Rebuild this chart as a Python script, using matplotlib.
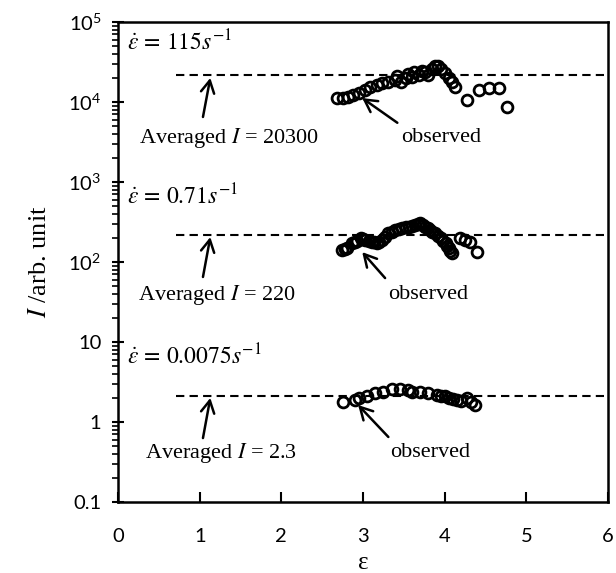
import matplotlib.pyplot as plt
import matplotlib.ticker as mticker
import numpy as np

# strain rate 115 s^-1
eps_115 = [2.68, 2.76, 2.82, 2.88, 2.95, 3.03, 3.09, 3.17, 3.23, 3.31, 3.39, 3.42, 3.46, 3.52,
           3.55, 3.60, 3.62, 3.68, 3.72, 3.76, 3.80, 3.84, 3.88, 3.92, 3.96, 4.00, 4.05, 4.09,
           4.13, 4.27, 4.42, 4.54, 4.66, 4.76]
I_115 = [11100, 11100, 11600, 12200, 12800, 14100, 15500, 16300, 17100, 17900, 18800, 21000,
         17900, 19800, 22500, 20700, 23500, 21700, 24500, 23500, 21700, 25500, 28000, 28500,
         26000, 23000, 19800, 17900, 15500, 10600, 14100, 14900, 14900, 8700]

# strain rate 0.71 s^-1
eps_071 = [2.74, 2.78, 2.80, 2.86, 2.90, 2.92, 2.97, 3.00, 3.03, 3.07, 3.11, 3.14, 3.17, 3.20,
           3.23, 3.27, 3.31, 3.35, 3.39, 3.44, 3.48, 3.52, 3.56, 3.60, 3.64, 3.67, 3.70, 3.73,
           3.76, 3.79, 3.82, 3.85, 3.88, 3.92, 3.95, 3.98, 4.01, 4.03, 4.05, 4.07, 4.09, 4.19,
           4.25, 4.31, 4.40]
I_071 = [141, 145, 148, 171, 179, 185, 198, 195, 188, 183, 179, 176, 171, 180,
         188, 205, 228, 240, 251, 258, 263, 270, 276, 283, 290, 296, 303, 290,
         276, 265, 251, 240, 228, 212, 198, 185, 171, 160, 148, 138, 129, 198,
         188, 179, 135]

# strain rate 0.0075 s^-1
eps_0075 = [2.75, 2.90, 2.95, 3.05, 3.15, 3.25, 3.35, 3.45, 3.55, 3.60, 3.70, 3.80, 3.90,
            3.95, 4.00, 4.05, 4.10, 4.15, 4.20, 4.27, 4.32, 4.37]
I_0075 = [1.8, 1.9, 2.0, 2.1, 2.3, 2.4, 2.6, 2.55, 2.5, 2.4, 2.4, 2.3, 2.2,
          2.1, 2.1, 2.0, 1.95, 1.9, 1.85, 2.0, 1.8, 1.65]

avg_levels = [21500, 220, 2.1]
avg_labels = ["20300", "220", "2.3"]
rate_labels = [r"$\dot{\varepsilon}\,=\,115s^{-1}$", r"$\dot{\varepsilon}\,=\,0.71s^{-1}$",
               r"$\dot{\varepsilon}\,=\,0.0075s^{-1}$"]

plt.rcParams["mathtext.fontset"] = "custom"
plt.rcParams["mathtext.rm"] = "Lato"
plt.rcParams["mathtext.it"] = "Lato:italic"

fig = plt.figure(figsize=(6.16, 5.73), dpi=100)
ax = fig.add_axes([0.1916, 0.1239, 0.7955, 0.8377])

for e, I in [(eps_115, I_115), (eps_071, I_071), (eps_0075, I_0075)]:
    ax.plot(e, I, "o", mfc="none", mec="black", ms=7.8, mew=2.0)

for lev in avg_levels:
    ax.plot([0.71, 5.95], [lev, lev], "--", color="black", lw=1.5, dashes=(4, 2.5))

ax.set_yscale("log")
ax.set_xlim(0, 6)
ax.set_ylim(0.1, 1e5)

# label positions
rate_y = [55000, 650, 6.5]
avg_txt_y = [3550, 39, 0.41]
avg_txt_x = [0.26, 0.25, 0.33]
arr_tip = [20000, 205, 2.0]
arr_tail = [6500, 65, 0.63]
obs_x = [3.96, 3.80, 3.82]
obs_tip = [(2.99, 11200), (2.99, 133), (2.94, 1.63)]
obs_tail = [(3.42, 5500), (3.27, 63), (3.31, 0.65)]

arrow = dict(arrowstyle="->,head_length=0.55,head_width=0.3", lw=1.8, color="black",
             mutation_scale=16, shrinkA=0, shrinkB=0)

for k in range(3):
    ax.text(0.11, rate_y[k], rate_labels[k], fontsize=17, math_fontfamily="stix",
            va="center", ha="left")
    ax.text(avg_txt_x[k], avg_txt_y[k], r"Averaged $I$ = " + avg_labels[k], fontsize=16,
            family="Liberation Serif", math_fontfamily="stix", va="center", ha="left")
    ax.annotate("", xy=(1.13, arr_tip[k]), xytext=(1.04, arr_tail[k]), arrowprops=arrow)
    ax.text(obs_x[k], avg_txt_y[k], "observed", fontsize=16, family="Liberation Serif",
            va="center", ha="center")
    ax.annotate("", xy=obs_tip[k], xytext=obs_tail[k], arrowprops=arrow)

ax.set_yticks([0.1, 1, 10, 100, 1000, 1e4, 1e5])
ax.set_yticklabels(["0.1", "1", "10", r"$10^{2}$", r"$10^{3}$", r"$10^{4}$", r"$10^{5}$"])
ax.yaxis.set_minor_locator(mticker.LogLocator(base=10, subs=np.arange(2, 10), numticks=20))
ax.yaxis.set_minor_formatter(mticker.NullFormatter())
ax.set_xticks(range(0, 7))

for lab in ax.get_xticklabels() + ax.get_yticklabels():
    lab.set_fontfamily("Lato")
    lab.set_fontsize(14.5)

ax.tick_params(axis="x", which="major", direction="in", length=7, width=1.5, pad=19)
ax.tick_params(axis="y", which="major", direction="inout", length=8, width=1.5, pad=8)
ax.tick_params(axis="y", which="minor", direction="out", length=4, width=1.2)
for s in ax.spines.values():
    s.set_linewidth(1.8)

ax.set_xlabel("ε", fontsize=18, family="Liberation Serif", labelpad=5)
ax.set_ylabel(r"$I$ /arb. unit", fontsize=19, family="Liberation Serif",
              math_fontfamily="stix", labelpad=12)

fig.savefig("out.png", dpi=100)
